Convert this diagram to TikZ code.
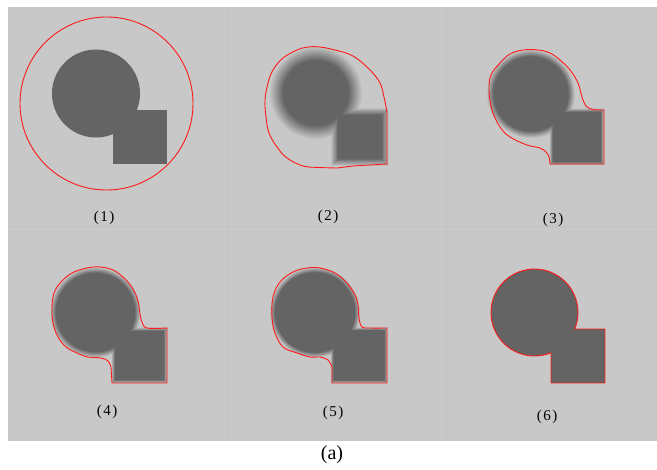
\documentclass[tikz,border=0pt]{standalone}
\usepackage{fontspec}
\setmainfont{Liberation Serif}
\definecolor{bggray}{HTML}{C8C8C8}
\definecolor{shapegray}{HTML}{646464}
\definecolor{divgray}{HTML}{C1C1C1}
\definecolor{contred}{HTML}{FF1A1A}
\tikzset{
  contour/.style={draw=contred, line width=0.9pt, line join=round},
  lbl/.style={font=\fontsize{15}{15}\selectfont, inner sep=0pt},
  captionlbl/.style={font=\fontsize{20}{20}\selectfont, inner sep=0pt},
}
% blurred union of circle (#1,#2) r #3 and rectangle (#4,#5)-(#6,#7);
% blur extents: circle out \ce / in \cb, square out \se / in \sb
\newcommand{\blurshape}[7]{%
  \foreach \kk in {0,...,12} {%
    \pgfmathsetmacro\pp{100*(\kk+1)/13}%
    \pgfmathsetmacro\dc{\ce-(\ce+\cb)*\kk/12}%
    \pgfmathsetmacro\ds{\se-(\se+\sb)*\kk/12}%
    \pgfmathsetmacro\rr{#3+(\dc)}%
    \pgfmathsetmacro\xa{#4-(\ds)}%
    \pgfmathsetmacro\ya{#5-(\ds)}%
    \pgfmathsetmacro\xb{#6+(\ds)}%
    \pgfmathsetmacro\yb{#7+(\ds)}%
    \fill[shapegray!\pp!bggray] (#1,#2) circle[radius=\rr];
    \fill[shapegray!\pp!bggray] (\xa,\ya) rectangle (\xb,\yb);
  }%
}
\begin{document}
\begin{tikzpicture}[x=1pt,y=-1pt]
\useasboundingbox (0,0) rectangle (657,470);
\fill[white] (0,0) rectangle (657,470);
% grey panel
\fill[bggray] (8,7) rectangle (657,441);
\draw[divgray, line width=0.8pt] (228,7) -- (228,441);
\draw[divgray, line width=0.8pt] (446,7) -- (446,441);
\draw[divgray, line width=0.8pt] (8,226) -- (657,226);

% ---------- panel 1 ----------
\fill[shapegray] (96,93.5) circle[radius=44];
\fill[shapegray] (113,110) rectangle (167,164);
\draw[contour] (106.5,103.5) circle[radius=86.5];
\node[lbl] (l1) at (104,218) {(\kern1.5pt1\kern1.5pt)};

% ---------- panel 2 ----------
\def\ce{4}\def\cb{9}\def\se{2}\def\sb{5}
\blurshape{316}{93}{42}{333}{110}{387}{164}
\draw[contour] plot[smooth, tension=0.6] coordinates {(337,168) (320,167.5) (303,166) (287,158) (277,147) (269,133) (266,117) (265,100) (268,83) (273,70) (283,58) (297,50) (308,47) (320,47) (335,50) (353,56) (370,70) (380,83) (384,97) (387,112)} -- (387,164) -- (353,166) -- cycle;
\node[lbl] (l2) at (328,217) {(\kern1.5pt2\kern1.5pt)};

% ---------- panel 3 ----------
\def\ce{1.5}\def\cb{5}\def\se{0.5}\def\sb{3}
\blurshape{531}{94}{42.5}{550}{109}{604}{165}
\draw[contour] plot[smooth, tension=0.6] coordinates {(550,164) (549,157) (546,152) (540,148) (527,145) (510,137) (500,127) (492,110) (489,90) (491,75) (500,63) (510,54) (523,50) (538,50) (550,53) (560,60) (570,70) (578,83) (582,97) (586,106) (593,109.5) (604,110)} -- (604,164) -- cycle;
\node[lbl] (l3) at (553,220) {(\kern1.5pt3\kern1.5pt)};

% ---------- panel 4 ----------
\def\ce{1.5}\def\cb{4}\def\se{0.5}\def\sb{3}
\blurshape{95.5}{312.5}{43.5}{112}{328}{167}{383}
\draw[contour] plot[smooth, tension=0.6] coordinates {(111,367) (108,361) (101,358) (88,357) (77,353) (66,347) (58,337) (53,323) (52,308) (54,293) (61,282) (72,273) (87,268) (100,267) (113,270) (124,278) (133,289) (138,301) (140,314) (142,322) (147,328) (167,328)} -- (167,383) -- (112,383) -- cycle;
\node[lbl] (l4) at (107,412) {(\kern1.5pt4\kern1.5pt)};

% ---------- panel 5 ----------
\def\ce{1.5}\def\cb{3.5}\def\se{0.5}\def\sb{2.5}
\blurshape{315}{312.5}{43.5}{331}{328}{387}{383}
\draw[contour] plot[smooth, tension=0.6] coordinates {(332,367) (328,360) (320,357) (310,357) (297,353) (283,347) (275,333) (272,317) (273,297) (280,282) (293,272) (307,268) (320,268) (335,273) (347,283) (355,295) (358,305) (359,318) (362,327) (370,328) (387,328)} -- (387,383) -- (332,383) -- cycle;
\node[lbl] (l5) at (333,413) {(\kern1.5pt5\kern1.5pt)};

% ---------- panel 6 ----------
\fill[shapegray] (534.5,312.5) circle[radius=43.5];
\fill[shapegray] (551,329) rectangle (605,383);
\draw[contour] (574.75,329) -- (605,329) -- (605,383) -- (551,383) -- (551,352.75)
  arc[start angle=-67.7, delta angle=-314.6, radius=43.5pt] -- cycle;
\node[lbl] (l6) at (547,417) {(\kern1.5pt6\kern1.5pt)};

% caption
\node[captionlbl] (cap) at (332,455) {(a)};
\end{tikzpicture}
\end{document}
